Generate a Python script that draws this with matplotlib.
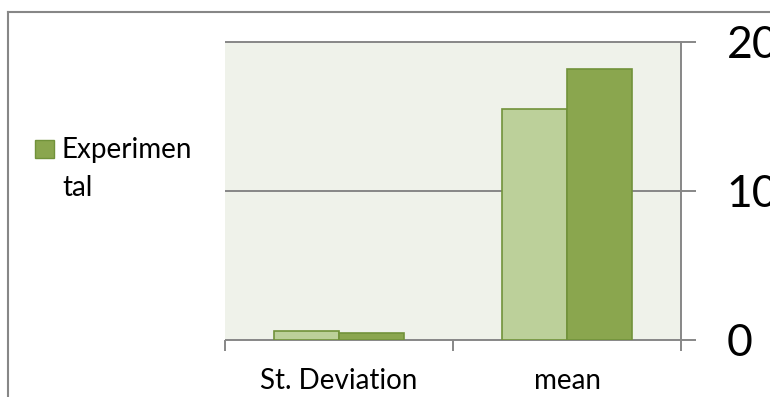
'''
Bar chart of St. Deviation and mean, two series, Excel style.
'''

import matplotlib.pyplot as plt
import numpy as np
from matplotlib.patches import Rectangle
from matplotlib.lines import Line2D

categories = ['St. Deviation', 'mean']
control = [0.62, 15.5]        # light green series (not in legend)
experimental = [0.48, 18.2]   # dark green series
yticks = [0, 10, 20]

plt.rcParams['font.family'] = ['Lato', 'DejaVu Sans']

fig = plt.figure(figsize=(7.7, 3.97), dpi=100)
ax = fig.add_axes([225/770, 1-340/397, 456/770, 298/397])
ax.set_facecolor('#EFF2EA')

x = np.arange(len(categories))
w = 0.287
ax.bar(x - w/2, control, w, color='#BCD09A', edgecolor='#71923A', linewidth=1.2, zorder=3)
ax.bar(x + w/2, experimental, w, color='#8AA64E', edgecolor='#71923A', linewidth=1.2, zorder=3)

ax.set_xlim(-0.5, len(categories) - 0.5)
ax.set_ylim(0, 20)

# horizontal gridlines, carried out to the right tick marks
for v in yticks:
    ax.plot([-0.5, 1.5 + 15/228], [v, v], color='#878787', lw=1.4,
            clip_on=False, zorder=2, solid_capstyle='butt')

for s in ['top', 'left', 'bottom']:
    ax.spines[s].set_visible(False)
ax.spines['right'].set_color('#878787')
ax.spines['right'].set_linewidth(1.4)

ax.yaxis.tick_right()
ax.set_yticks(yticks)
ax.tick_params(axis='y', length=0, pad=33, labelsize=32)

ax.set_xticks(x)
ax.set_xticklabels(categories)
ax.tick_params(axis='x', length=0, pad=20, labelsize=20)
ax.set_xticks(np.arange(len(categories) + 1) - 0.5, minor=True)
ax.tick_params(axis='x', which='minor', length=8, width=1.4, color='#878787', direction='out')

# legend drawn by hand: only the dark series is listed
fig.patches.append(Rectangle((35/770, 1-158/397), 19/770, 18/397, transform=fig.transFigure,
                             facecolor='#8AA64E', edgecolor='#71923A', lw=1))
fig.text(62/770, 1-150/397, 'Experimen', fontsize=20, va='center', ha='left')
fig.text(62/770, 1-188/397, 'tal', fontsize=20, va='center', ha='left')

# chart area border (cut off at right and bottom)
fig.lines.append(Line2D([8/770, 8/770], [0, 1-12/397], transform=fig.transFigure,
                        color='#878787', lw=1.5))
fig.lines.append(Line2D([8/770, 1], [1-12/397, 1-12/397], transform=fig.transFigure,
                        color='#878787', lw=1.5))

fig.savefig('out.png', dpi=100)
